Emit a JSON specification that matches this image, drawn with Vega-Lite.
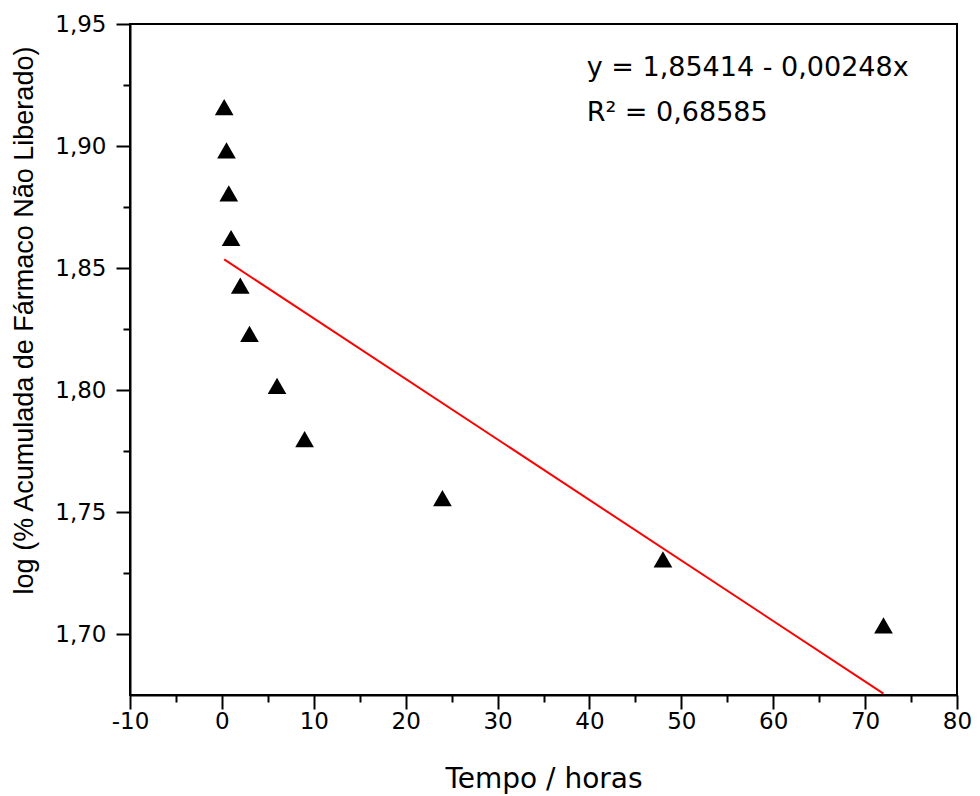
{
  "$schema": "https://vega.github.io/schema/vega-lite/v6.json",
  "width": 827,
  "height": 671,
  "autosize": {"type": "none"},
  "padding": {"left": 130, "top": 24, "right": 23, "bottom": 101},
  "background": "white",
  "config": {
    "view": {"stroke": "black", "strokeWidth": 2},
    "font": "DejaVu Sans",
    "axis": {
      "grid": false,
      "domainColor": "black",
      "domainWidth": 2,
      "tickColor": "black",
      "tickWidth": 2,
      "labelColor": "black",
      "labelFont": "DejaVu Sans",
      "labelFontSize": 23,
      "titleColor": "black",
      "titleFont": "DejaVu Sans",
      "titleFontSize": 28,
      "titleFontWeight": "normal"
    }
  },
  "encoding": {
    "x": {
      "field": "tempo",
      "type": "quantitative",
      "scale": {"domain": [-10, 80], "nice": false, "zero": false},
      "axis": {
        "title": "Tempo / horas",
        "values": [-10, -5, 0, 5, 10, 15, 20, 25, 30, 35, 40, 45, 50, 55, 60, 65, 70, 75, 80],
        "labelExpr": "datum.value % 10 === 0 ? '' + datum.value : ''",
        "tickSize": {"condition": {"test": "datum.value % 10 === 0", "value": 14}, "value": 7},
        "labelPadding": 1,
        "labelFlush": false,
        "labelOverlap": false,
        "titleBaseline": "alphabetic",
        "titleY": 92
      }
    },
    "y": {
      "field": "logval",
      "type": "quantitative",
      "scale": {"domain": [1.675, 1.95], "nice": false, "zero": false},
      "axis": {
        "title": "log (% Acumulada de Fármaco Não Liberado)",
        "titleFont": "Liberation Sans",
        "titleFontSize": 27,
        "values": [1.7, 1.725, 1.75, 1.775, 1.8, 1.825, 1.85, 1.875, 1.9, 1.925, 1.95],
        "labelExpr": "round(datum.value * 1000) % 50 === 0 ? replace(format(datum.value, '.2f'), '.', ',') : ''",
        "tickSize": {"condition": {"test": "round(datum.value * 1000) % 50 === 0", "value": 14}, "value": 7},
        "labelPadding": 10,
        "labelFlush": false,
        "labelOverlap": false,
        "titleBaseline": "alphabetic",
        "titleAngle": -90,
        "titleX": -98,
        "titleY": 296,
        "titleAnchor": "middle"
      }
    }
  },
  "layer": [
    {
      "data": {"values": [
        {"tempo": 0.25, "logval": 1.9159},
        {"tempo": 0.5, "logval": 1.8982},
        {"tempo": 0.75, "logval": 1.8806},
        {"tempo": 1, "logval": 1.8623},
        {"tempo": 2, "logval": 1.8428},
        {"tempo": 3, "logval": 1.823},
        {"tempo": 6, "logval": 1.8017},
        {"tempo": 9, "logval": 1.7799},
        {"tempo": 24, "logval": 1.7557},
        {"tempo": 48, "logval": 1.7306},
        {"tempo": 72, "logval": 1.7035}
      ]},
      "mark": {"type": "point", "shape": "triangle-up", "filled": true, "color": "black", "opacity": 1, "size": 350}
    },
    {
      "data": {"values": [
        {"tempo": 0.25, "logval": 1.85352},
        {"tempo": 72, "logval": 1.67558}
      ]},
      "mark": {"type": "line", "color": "#ff0000", "strokeWidth": 2}
    },
    {
      "data": {"values": [
        {"tempo": 39.7, "logval": 1.9286, "label": "y = 1,85414 - 0,00248x"},
        {"tempo": 39.7, "logval": 1.9101, "label": "R² = 0,68585"}
      ]},
      "mark": {"type": "text", "align": "left", "baseline": "alphabetic", "fontSize": 27, "font": "DejaVu Sans", "color": "black"},
      "encoding": {"text": {"field": "label"}}
    }
  ]
}
